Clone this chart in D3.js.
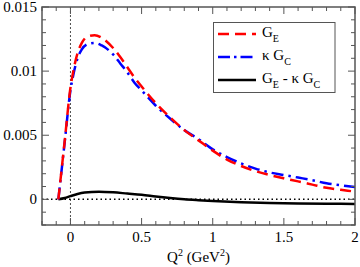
<!DOCTYPE html>
<html><head><meta charset="utf-8">
<script src="https://cdn.jsdelivr.net/npm/d3@7"></script>
<style>body{margin:0;background:#fff}svg{display:block}</style>
</head><body><svg id="c" width="360" height="267" font-family="'Liberation Serif', 'DejaVu Serif', 'Times New Roman', serif"></svg>
<script>
const qE = [-0.085,-0.04,0,0.02,0.05,0.08,0.12,0.17,0.22,0.3,0.35,0.4,0.45,0.5,0.6,0.7,0.8,0.9,1.0,1.1,1.2,1.3,1.4,1.5,1.6,1.7,1.8,1.9,2.0];
const gE = [0,0.0046,0.0087,0.0100,0.0114,0.0122,0.0127,0.0128,0.0126,0.0118,0.0111,0.0103,0.0095,0.0088,0.0075,0.0064,0.0054,0.0046,0.0038,0.0031,0.0026,0.0022,0.0019,0.00164,0.0014,0.00115,0.0009,0.00075,0.0006];
const kGC = [0,0.0045,0.0085,0.0097,0.0110,0.0117,0.0121,0.0122,0.0120,0.0113,0.0106,0.0099,0.0091,0.0085,0.0073,0.0063,0.0054,0.0047,0.0039,0.0033,0.0028,0.0024,0.0021,0.0019,0.0017,0.0015,0.00125,0.0011,0.00096];
const qD = [-0.085,-0.04,0,0.05,0.1,0.2,0.3,0.4,0.5,0.6,0.7,0.8,0.9,1.0,1.2,1.4,1.6,1.8,2.0];
const diff = [0,0.0001,0.00025,0.00042,0.00053,0.0006,0.00055,0.00045,0.00035,0.00022,0.0001,0,-0.00007,-0.00013,-0.00022,-0.00028,-0.00032,-0.00034,-0.00036];
const xTicks = [0,0.5,1,1.5,2];
const xTickLabels = ["0","0.5","1","1.5","2"];
const yTicks = [0,0.005,0.01,0.015];
const yTickLabels = ["0","0.005","0.01","0.015"];

const svg = d3.select("#c");
const L=42,R=355,T=7,B=225;
const x = d3.scaleLinear().domain([-0.2,2]).range([L,R]);
const y = d3.scaleLinear().domain([-0.002,0.015]).range([B,T]);

svg.append("line").attr("x1",x(0)).attr("x2",x(0)).attr("y1",T).attr("y2",B)
  .attr("stroke","#000").attr("stroke-width",0.7).attr("stroke-dasharray","2,2");
svg.append("line").attr("x1",L).attr("x2",R).attr("y1",y(0)).attr("y2",y(0))
  .attr("stroke","#000").attr("stroke-width",1.5).attr("stroke-dasharray","1.5,3");

const line = d3.line().curve(d3.curveMonotoneX);
function draw(xs, ys, color, dash, w){
  svg.append("path").attr("d", line(xs.map((q,i)=>[x(q),y(ys[i])])))
    .attr("fill","none").attr("stroke",color).attr("stroke-width",w)
    .attr("stroke-dasharray",dash);
}
draw(qD, diff, "#000", null, 2.5);
draw(qE, kGC, "#0000ff", "12,5,2.5,5", 2.5);
draw(qE, gE, "#ff0000", "11,6", 2.5);

svg.append("rect").attr("x",L).attr("y",T).attr("width",R-L).attr("height",B-T)
  .attr("fill","none").attr("stroke","#555").attr("stroke-width",1.5);

const tk = svg.append("g").attr("stroke","#555").attr("stroke-width",1);
d3.range(-2,21).forEach(i=>{
  const v=i/10, px=x(v), major = i%5===0, len = major?7:4;
  tk.append("line").attr("x1",px).attr("x2",px).attr("y1",B).attr("y2",B-len);
  tk.append("line").attr("x1",px).attr("x2",px).attr("y1",T).attr("y2",T+len);
});
d3.range(-2,16).forEach(i=>{
  const v=i/1000, py=y(v), major = i%5===0, len = major?7:4;
  tk.append("line").attr("x1",L).attr("x2",L+len).attr("y1",py).attr("y2",py);
  tk.append("line").attr("x1",R).attr("x2",R-len).attr("y1",py).attr("y2",py);
});

xTicks.forEach((v,i)=>{
  svg.append("text").attr("x",x(v)).attr("y",242).attr("text-anchor","middle")
    .attr("font-size",15).text(xTickLabels[i]);
});
yTicks.forEach((v,i)=>{
  svg.append("text").attr("x",37).attr("y",y(v)+5).attr("text-anchor","end")
    .attr("font-size",15).text(yTickLabels[i]);
});

const xl = svg.append("text").attr("x",(L+R)/2).attr("y",262).attr("text-anchor","middle").attr("font-size",15);
xl.append("tspan").text("Q");
xl.append("tspan").attr("dy",-6).attr("font-size",10).text("2");
xl.append("tspan").attr("dy",6).text(" (GeV");
xl.append("tspan").attr("dy",-6).attr("font-size",10).text("2");
xl.append("tspan").attr("dy",6).text(")");

svg.append("rect").attr("x",213.5).attr("y",22.5).attr("width",121.5).attr("height",70)
  .attr("fill","#fff").attr("stroke","#555").attr("stroke-width",1);
const leg = [
  {c:"#ff0000",d:"11,6",parts:[["G",0],["E",1]],yy:34},
  {c:"#0000ff",d:"12,4,2.5,4",parts:[["κ G",0],["C",1]],yy:57},
  {c:"#000",d:null,parts:[["G",0],["E",1],[" - κ G",0],["C",1]],yy:80}
];
leg.forEach(e=>{
  svg.append("line").attr("x1",218).attr("x2",256).attr("y1",e.yy).attr("y2",e.yy)
    .attr("stroke",e.c).attr("stroke-width",2.5).attr("stroke-dasharray",e.d);
  const t = svg.append("text").attr("x",262).attr("y",e.yy+3).attr("font-size",15);
  let sub=false;
  e.parts.forEach(p=>{
    const s = t.append("tspan").text(p[0]);
    if(p[1]&&!sub){s.attr("dy",5).attr("font-size",10);sub=true;}
    else if(!p[1]&&sub){s.attr("dy",-5);sub=false;}
  });
});
</script></body></html>
